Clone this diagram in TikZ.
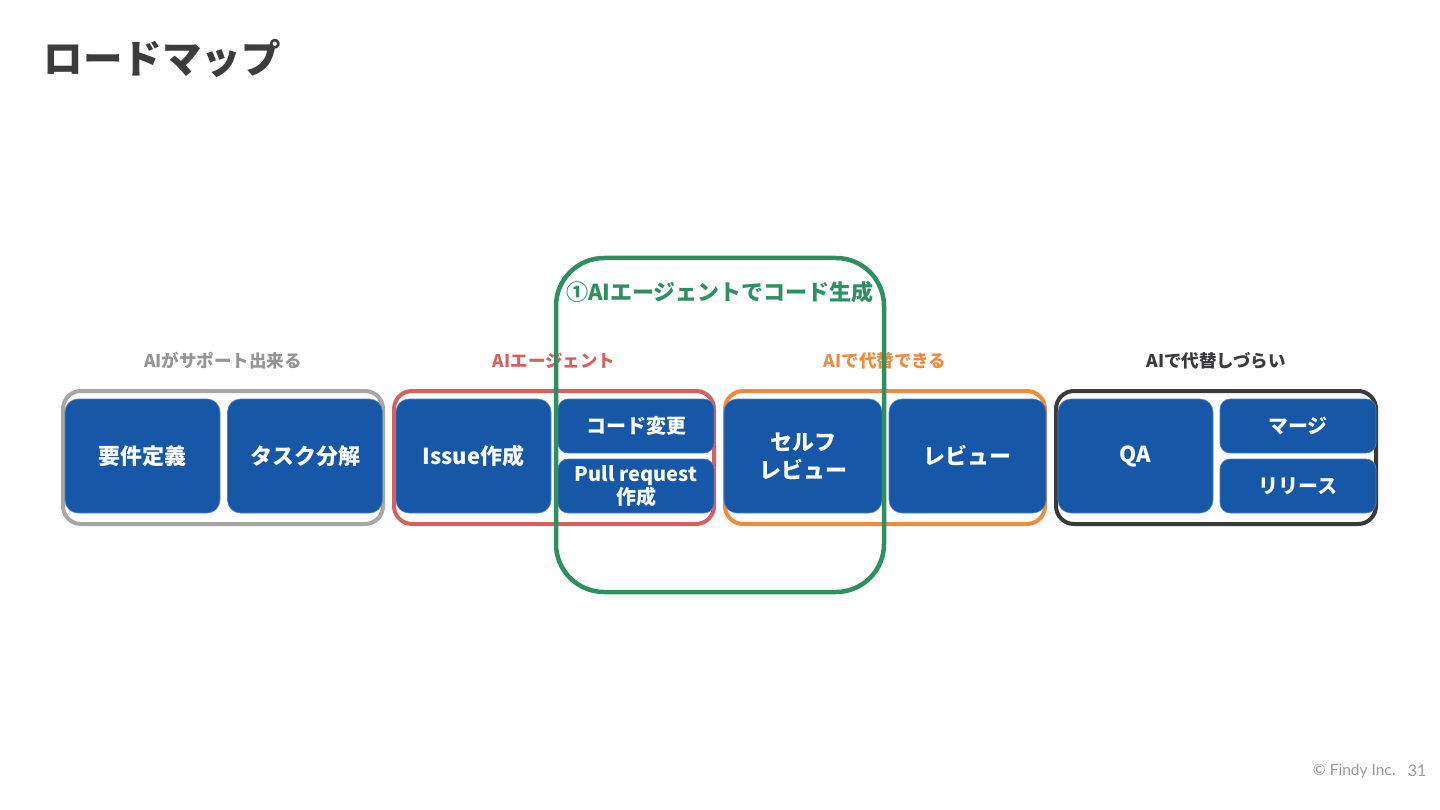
\documentclass[tikz,border=0pt]{standalone}
\usepackage{fontspec}
\setmainfont{Noto Sans CJK JP}
\newfontfamily\footfont{Lato}
\definecolor{taskblue}{HTML}{1657A7}
\definecolor{supportgray}{HTML}{A6A6A6}
\definecolor{agentred}{HTML}{D95F5F}
\definecolor{replaceorange}{HTML}{F08A3C}
\definecolor{harddark}{HTML}{3A3A3C}
\definecolor{gengreen}{HTML}{2E9060}
\definecolor{titlegray}{HTML}{3C3C3C}

\begin{document}
\begin{tikzpicture}[x=1pt,y=-1pt,
    task/.style={fill=taskblue,draw=taskblue!75!white,line width=0.6pt,rounded corners=13pt,
        text=white,align=center,inner sep=0pt,outer sep=0pt,minimum width=155pt,minimum height=114pt,
        font=\fontsize{22}{28}\selectfont\bfseries},
    subtask/.style={task,rounded corners=10pt,minimum width=156pt,minimum height=54pt,
        font=\fontsize{20}{23}\selectfont\bfseries},
    frame/.style={draw,line width=4pt,rounded corners=18pt,inner sep=0pt,outer sep=0pt,
        minimum width=320pt,minimum height=133pt},
    grouplabel/.style={font=\fontsize{17.5}{20}\selectfont\bfseries}]
    \useasboundingbox (0,0) rectangle (1440,810);

    \node[anchor=west,text=titlegray,font=\fontsize{39.5}{44}\selectfont\bfseries] (title) at (40,58) {ロードマップ};

    % frames
    \node[frame,draw=supportgray] (fsupport) at (223,457.5) {};
    \node[frame,draw=agentred] (fagent) at (554,457.5) {};
    \node[frame,draw=replaceorange] (freplace) at (885,457.5) {};
    \node[frame,draw=harddark] (fhard) at (1216,457.5) {};

    \node[grouplabel,text=supportgray!90!black] (lsupport) at (223,361) {AIがサポート出来る};
    \node[grouplabel,text=agentred] (lagent) at (554,361) {AIエージェント};
    \node[grouplabel,text=replaceorange] (lreplace) at (885,361) {AIで代替できる};
    \node[grouplabel,text=harddark] (lhard) at (1216,361) {AIで代替しづらい};

    % tasks
    \node[task] (req) at (142.5,456) {要件定義};
    \node[task] (split) at (305,456) {タスク分解};
    \node[task] (issue) at (473.5,456) {Issue作成};
    \node[subtask] (codechg) at (636,426) {コード変更};
    \node[subtask] (pullreq) at (636,486) {Pull request\\作成};
    \node[task,minimum width=158pt] (selfrev) at (803,456) {セルフ\\レビュー};
    \node[task,minimum width=157pt] (review) at (967.5,456) {レビュー};
    \node[task] (qa) at (1135.5,456) {QA};
    \node[subtask] (merge) at (1298,426) {マージ};
    \node[subtask] (release) at (1298,486) {リリース};

    % code generation
    \draw[gengreen,line width=4.5pt,rounded corners=48pt] (556,258) rectangle (884,592);
    \node[text=gengreen,font=\fontsize{22}{26}\selectfont\bfseries] (lgen) at (720,292) {①AIエージェントでコード生成};

    \node[anchor=east,text=black!40,font=\footfont\fontsize{15.5}{18}\selectfont] (copy) at (1399,771) {© Findy Inc.};
    \node[anchor=east,text=black!40,font=\footfont\fontsize{16}{18}\selectfont] (page) at (1430,771) {31};
\end{tikzpicture}
\end{document}
